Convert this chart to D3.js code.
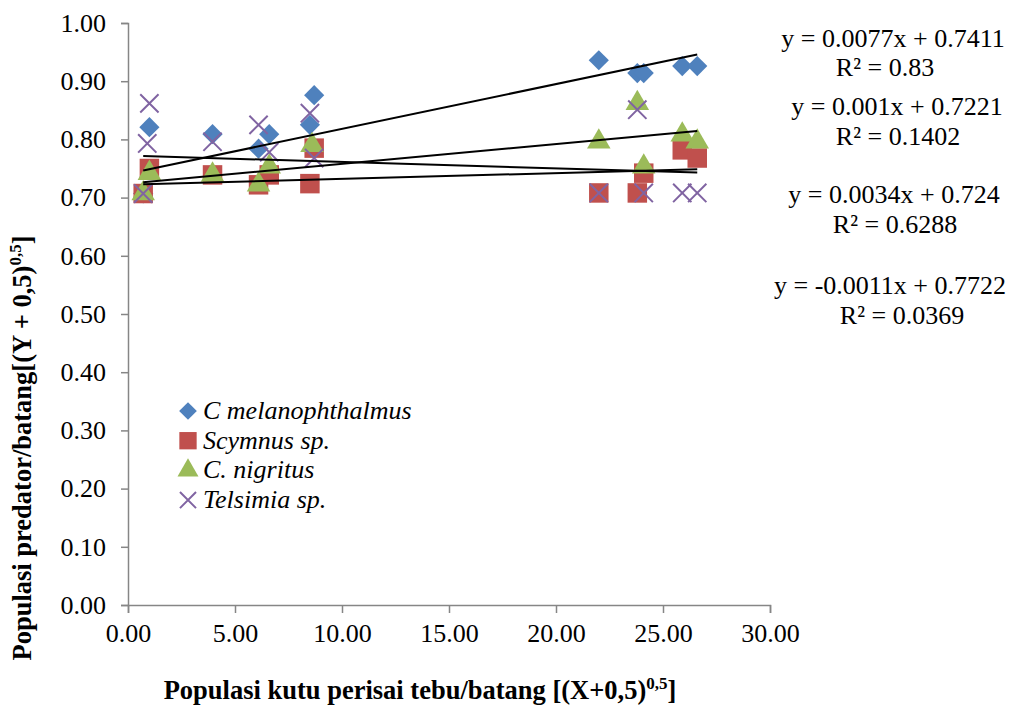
<!DOCTYPE html>
<html>
<head>
<meta charset="utf-8">
<script src="https://cdn.jsdelivr.net/npm/d3@7"></script>
<style>
body { margin: 0; background: #fff; }
svg text { font-family: "Liberation Serif", "Times New Roman", serif; }
</style>
</head>
<body>
<div id="chart"></div>
<script>
// data
var seriesNames = ["C melanophthalmus", "Scymnus sp.", "C. nigritus", "Telsimia sp."];
var seriesColors = ["#4F81BD", "#C0504D", "#9BBB59", "#8064A2"];
var seriesShapes = ["diamond", "square", "triangle", "cross"];

var melX = [0.71, 1.0, 3.95, 6.1, 6.6, 8.5, 8.7, 22.0, 23.8, 24.1, 25.9, 26.6];
var melY = [0.707, 0.821, 0.809, 0.784, 0.809, 0.825, 0.876, 0.936, 0.914, 0.914, 0.926, 0.926];

var scyX = [0.71, 1.0, 3.95, 6.1, 6.6, 8.5, 8.7, 22.0, 23.8, 24.1, 25.9, 26.6];
var scyY = [0.707, 0.750, 0.739, 0.722, 0.739, 0.724, 0.785, 0.708, 0.708, 0.742, 0.782, 0.768];

var nigX = [0.71, 1.0, 3.95, 6.1, 6.6, 8.6, 22.0, 23.8, 24.1, 25.9, 26.6];
var nigY = [0.707, 0.742, 0.739, 0.722, 0.753, 0.790, 0.796, 0.862, 0.753, 0.808, 0.796];

var telX = [0.71, 1.0, 0.9, 3.95, 6.1, 6.6, 8.5, 8.7, 22.0, 23.8, 24.1, 25.9, 26.6];
var telY = [0.707, 0.862, 0.793, 0.796, 0.825, 0.778, 0.845, 0.768, 0.708, 0.851, 0.708, 0.708, 0.708];

// trendline equations as printed
var slopes = [0.0077, 0.001, 0.0034, -0.0011];
var intercepts = [0.7411, 0.7221, 0.724, 0.7722];
var eqLabels = ["y = 0.0077x + 0.7411", "y = 0.001x + 0.7221", "y = 0.0034x + 0.724", "y = -0.0011x + 0.7722"];
var r2Labels = ["0.83", "0.1402", "0.6288", "0.0369"];

var xTicks = [0, 5, 10, 15, 20, 25, 30];
var yTicks = [0, 0.1, 0.2, 0.3, 0.4, 0.5, 0.6, 0.7, 0.8, 0.9, 1.0];

var width = 1030, height = 707;
var margin = {top: 23, left: 128, right: 260, bottom: 102};
var fontSize = "26px";

var svg = d3.select("#chart").append("svg")
  .attr("width", width)
  .attr("height", height);

var x = d3.scaleLinear().domain([0, 30]).range([margin.left, width - margin.right]);
var y = d3.scaleLinear().domain([0, 1]).range([height - margin.bottom, margin.top]);

var axisColor = "#868686";

// axes
var xAxis = svg.append("g")
  .attr("transform", "translate(0," + y(0) + ")")
  .call(d3.axisBottom(x).tickValues(xTicks).tickFormat(d3.format(".2f")).tickSize(8).tickPadding(11));
var yAxis = svg.append("g")
  .attr("transform", "translate(" + x(0) + ",0)")
  .call(d3.axisLeft(y).tickValues(yTicks).tickFormat(d3.format(".2f")).tickSize(7).tickPadding(15));

[xAxis, yAxis].forEach(function(a) {
  a.attr("font-family", "Liberation Serif").attr("font-size", fontSize);
  a.select(".domain").attr("stroke", axisColor).attr("stroke-width", 1.5);
  a.selectAll(".tick line").attr("stroke", axisColor).attr("stroke-width", 1.5);
  a.selectAll(".tick text").attr("fill", "#000");
});

// markers
var symbolTypes = {
  diamond: d3.symbolDiamond2,
  square: d3.symbolSquare,
  triangle: d3.symbolTriangle,
  cross: d3.symbolX
};

function drawMarker(g, shape, color, size) {
  if (shape === "cross") {
    g.append("path")
      .attr("d", d3.symbol().type(d3.symbolX).size(size)())
      .attr("fill", "none")
      .attr("stroke", color)
      .attr("stroke-width", 2);
  } else {
    g.append("path")
      .attr("d", d3.symbol().type(symbolTypes[shape]).size(size)())
      .attr("fill", color);
  }
}

var allX = [melX, scyX, nigX, telX];
var allY = [melY, scyY, nigY, telY];
var markerSize = [260, 380, 240, 220];

allX.forEach(function(xs, i) {
  var pts = svg.append("g");
  xs.forEach(function(xv, j) {
    var g = pts.append("g")
      .attr("transform", "translate(" + x(xv) + "," + y(allY[i][j]) + ")");
    drawMarker(g, seriesShapes[i], seriesColors[i], markerSize[i]);
  });
});

// trendlines
var line = d3.line().x(function(d) { return x(d[0]); }).y(function(d) { return y(d[1]); });
allX.forEach(function(xs, i) {
  var x0 = d3.min(xs), x1 = d3.max(xs);
  svg.append("path")
    .datum([[x0, slopes[i] * x0 + intercepts[i]], [x1, slopes[i] * x1 + intercepts[i]]])
    .attr("d", line)
    .attr("fill", "none")
    .attr("stroke", "#000")
    .attr("stroke-width", 2);
});

// equations
var eqPos = [[893, 47, 885, 76], [897, 115, 898, 145], [894, 203, 895, 233], [890, 294, 902, 324]];
eqLabels.forEach(function(t, i) {
  svg.append("text")
    .attr("x", eqPos[i][0]).attr("y", eqPos[i][1])
    .attr("text-anchor", "middle")
    .style("font-size", fontSize)
    .text(t);
  svg.append("text")
    .attr("x", eqPos[i][2]).attr("y", eqPos[i][3])
    .attr("text-anchor", "middle")
    .style("font-size", fontSize)
    .text("R² = " + r2Labels[i]);
});

// legend
var legend = svg.append("g").attr("transform", "translate(188,411)");
seriesNames.forEach(function(n, i) {
  var row = legend.append("g").attr("transform", "translate(0," + (i * 29.7) + ")");
  drawMarker(row, seriesShapes[i], seriesColors[i], [200, 300, 190, 170][i]);
  row.append("text")
    .attr("x", 15).attr("y", 8)
    .style("font-size", fontSize)
    .style("font-style", "italic")
    .text(n);
});

// axis titles
var xt = svg.append("text")
  .attr("x", 420).attr("y", 699)
  .attr("text-anchor", "middle")
  .style("font-size", "26.5px")
  .style("font-weight", "bold");
xt.append("tspan").text("Populasi kutu perisai tebu/batang [(X+0,5)");
xt.append("tspan").attr("dy", -10).style("font-size", "17px").text("0,5");
xt.append("tspan").attr("dy", 10).text("]");

var yt = svg.append("text")
  .attr("transform", "translate(31,448) rotate(-90)")
  .attr("text-anchor", "middle")
  .style("font-size", "26.5px")
  .style("font-weight", "bold");
yt.append("tspan").text("Populasi predator/batang[(Y + 0,5)");
yt.append("tspan").attr("dy", -10).style("font-size", "17px").text("0,5");
yt.append("tspan").attr("dy", 10).text("]");
</script>
</body>
</html>
